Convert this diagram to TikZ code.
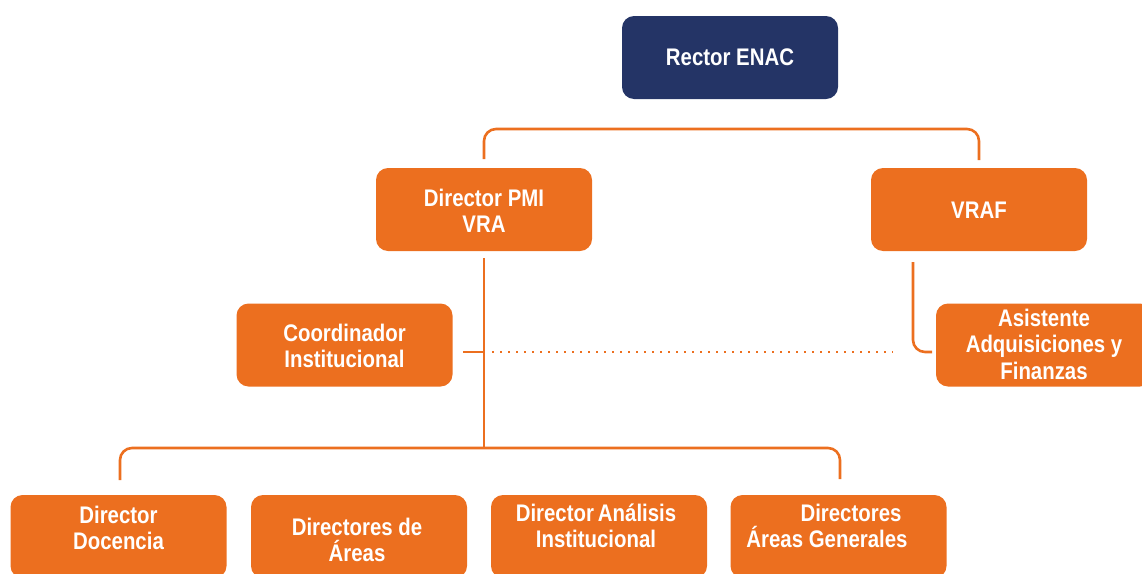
\documentclass[tikz,border=0pt]{standalone}
\usepackage{fontspec}
\setmainfont{Liberation Sans}[FakeStretch=0.85]
\definecolor{org}{HTML}{EC6F1F}
\definecolor{navy}{HTML}{243466}
\begin{document}
\begin{tikzpicture}[x=1pt,y=-1pt,
  box/.style={rectangle,rounded corners=12pt,fill=org,minimum width=216pt,minimum height=83pt,inner sep=0pt},
  txt/.style={text=white,font=\bfseries\fontsize{24}{26.5}\selectfont,align=center,inner sep=0pt},
  conn/.style={draw=org,line width=2.6pt,rounded corners=12pt},
  dots/.style={draw=org,line width=2pt,dash pattern=on 2pt off 6pt}]
\useasboundingbox (0,0) rectangle (1142,573);
\clip (0,0) rectangle (1142,573);
% boxes
\node[box,fill=navy] (rector) at (730,57.5) {};
\node[txt] (trector) at (730,57) {Rector ENAC};
\node[box] (pmi) at (484,209.5) {};
\node[txt] (tpmi) at (484,211) {Director PMI\\VRA};
\node[box] (vraf) at (979,209.5) {};
\node[txt] (tvraf) at (979,210) {VRAF};
\node[box] (coord) at (344.5,345) {};
\node[txt] (tcoord) at (344.5,346) {Coordinador\\Institucional};
\node[box] (asis) at (1044,345) {};
\node[txt] (tasis) at (1044,344) {Asistente\\Adquisiciones y\\Finanzas};
\node[box] (doc) at (118.5,536.5) {};
\node[txt] (tdoc) at (118.5,528) {Director\\Docencia};
\node[box] (areas) at (359,536.5) {};
\node[txt] (tareas) at (357,540) {Directores de\\Áreas};
\node[box] (anal) at (599,536.5) {};
\node[txt] (tanal) at (596,526) {Director\,Análisis\\Institucional};
\node[box] (gen) at (838.5,536.5) {};
\node[txt] (tgen) at (827,526) {\hspace*{48pt}Directores\\Áreas Generales};
% connector points
\coordinate (topL) at (484,159);
\coordinate (topR) at (979,160);
\coordinate (pmiB) at (484,258);
\coordinate (pmiEnd) at (484,448);
\coordinate (coordR) at (463,352);
\coordinate (junc) at (484,352);
\coordinate (dotEnd) at (893,352);
\coordinate (vrafB) at (913,262);
\coordinate (asisL) at (932,352);
\coordinate (botL) at (120,480);
\coordinate (botR) at (840,479);
% connectors
\draw[conn] (topL) |- (730,129) -| (topR);
\draw[conn] (pmiB) -- (pmiEnd);
\draw[conn,rounded corners=0pt] (coordR) -- (junc);
\draw[dots] (492,352) -- (dotEnd);
\draw[conn] (vrafB) |- (asisL);
\draw[conn] (botL) |- (pmiEnd) -| (botR);
\end{tikzpicture}
\end{document}
